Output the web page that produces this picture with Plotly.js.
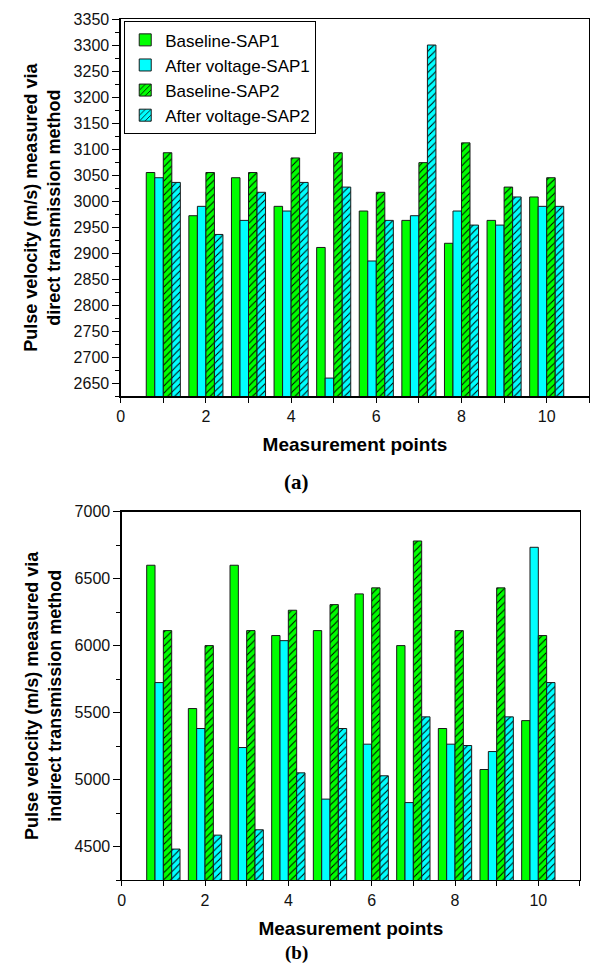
<!DOCTYPE html>
<html>
<head>
<meta charset="utf-8">
<script src="https://cdn.plot.ly/plotly-3.0.1.min.js"></script>
<style>html,body{margin:0;padding:0;background:#fff;}#chart{width:590px;height:967px;}</style>
</head>
<body>
<div id="chart"></div>
<script>
// Measurement points
const points = [1, 2, 3, 4, 5, 6, 7, 8, 9, 10];
const seriesNames = ["Baseline-SAP1", "After voltage-SAP1", "Baseline-SAP2", "After voltage-SAP2"];

// (a) direct transmission method (m/s)
const baselineSAP1_a = [3055, 2972, 3045, 2990, 2911, 2981, 2963, 2919, 2963, 3008];
const afterSAP1_a    = [3045, 2990, 2963, 2981, 2660, 2885, 2972, 2981, 2954, 2990];
const baselineSAP2_a = [3093, 3055, 3055, 3083, 3093, 3017, 3074, 3112, 3027, 3045];
const afterSAP2_a    = [3036, 2936, 3017, 3036, 3027, 2963, 3300, 2954, 3008, 2990];

// (b) indirect transmission method (m/s)
const baselineSAP1_b = [6600, 5530, 6600, 6075, 6112, 6386, 6000, 5381, 5075, 5440];
const afterSAP1_b    = [5724, 5381, 5239, 6037, 4854, 5264, 4828, 5264, 5209, 6734];
const baselineSAP2_b = [6112, 6000, 6112, 6264, 6306, 6431, 6781, 6112, 6431, 6075];
const afterSAP2_b    = [4481, 4585, 4625, 5050, 5381, 5028, 5468, 5254, 5468, 5724];

// x tick labels
const xTickVals = [0, 1, 2, 3, 4, 5, 6, 7, 8, 9, 10, 11];
const xTickText = ["0", "", "2", "", "4", "", "6", "", "8", "", "10", ""];

const GREEN = "#00ff00", CYAN = "#00ffff";
const FONT = "Liberation Sans";
const SERIF = "Liberation Serif";

function mk(name, y, color, hatched, xa, ya, showlegend) {
  const marker = {color: color, line: {color: "#1a1a1a", width: 1}};
  if (hatched) {
    marker.pattern = {shape: "/", fgcolor: "#000000", bgcolor: color, size: 5, solidity: 0.2, fillmode: "replace"};
  }
  return {type: "bar", name: name, x: points, y: y, marker: marker,
          xaxis: xa, yaxis: ya, legendgroup: name, showlegend: showlegend, hoverinfo: "x+y+name"};
}

const dataA = [baselineSAP1_a, afterSAP1_a, baselineSAP2_a, afterSAP2_a];
const dataB = [baselineSAP1_b, afterSAP1_b, baselineSAP2_b, afterSAP2_b];
const colors = [GREEN, CYAN, GREEN, CYAN];
const hatch = [false, false, true, true];

const traces = [];
for (let i = 0; i < 4; i++) traces.push(mk(seriesNames[i], dataA[i], colors[i], hatch[i], "x", "y", true));
for (let i = 0; i < 4; i++) traces.push(mk(seriesNames[i], dataB[i], colors[i], hatch[i], "x2", "y2", false));

const tickFont = {family: FONT, size: 16, color: "#111"};
function xAxis(domain, anchor) {
  return {domain: domain, anchor: anchor, range: [0, 11], tickvals: xTickVals, ticktext: xTickText,
          ticks: "outside", ticklen: 5, tickwidth: 1, tickcolor: "#000",
          showline: true, linecolor: "#000", linewidth: 1.3, mirror: true,
          showgrid: false, zeroline: false, tickfont: tickFont,
          title: {text: "<b>Measurement points</b>", font: {family: FONT, size: 19, color: "#000"}, standoff: 14}};
}
function yAxis(domain, anchor, range, dtick, minorDtick, titleText) {
  return {domain: domain, anchor: anchor, range: range, dtick: dtick,
          ticks: "outside", ticklen: 7, tickwidth: 1, tickcolor: "#000",
          minor: {ticks: "outside", ticklen: 4, dtick: minorDtick, tickcolor: "#000", showgrid: false},
          showline: true, linecolor: "#000", linewidth: 1.3, mirror: true,
          showgrid: false, zeroline: false, tickfont: tickFont,
          title: {text: titleText, font: {family: FONT, size: 18, color: "#000"}, standoff: 8}};
}

const layout = {
  width: 590, height: 967,
  margin: {l: 120, r: 0, t: 19, b: 87},
  paper_bgcolor: "#fff", plot_bgcolor: "#fff",
  font: {family: FONT, color: "#000"},
  bargap: 0.2, bargroupgap: 0, barmode: "group",
  xaxis: xAxis([0.0015, 0.9985], "y"),
  yaxis: yAxis([0.5618, 1], "x", [2625, 3350], 50, 25,
               "<b>Pulse velocity (m/s) measured via<br>direct transmission method</b>"),
  xaxis2: xAxis([0.0036, 0.9787], "y2"),
  yaxis2: yAxis([0, 0.4278], "x2", [4250, 7000], 500, 250,
               "<b>Pulse velocity (m/s) measured via<br>indirect transmission method</b>"),
  legend: {x: 0.009, y: 0.9973, xanchor: "left", yanchor: "top",
           bordercolor: "#000", borderwidth: 1, bgcolor: "#fff",
           font: {family: FONT, size: 17, color: "#000"}, tracegroupgap: 0, traceorder: "normal"},
  annotations: [
    {text: "<b>(a)</b>", xref: "paper", yref: "paper", x: 0.3745, y: 0.4626, xanchor: "center", yanchor: "middle",
     showarrow: false, font: {family: SERIF, size: 21, color: "#000"}},
    {text: "<b>(b)</b>", xref: "paper", yref: "paper", x: 0.3745, y: -0.0845, xanchor: "center", yanchor: "middle",
     showarrow: false, font: {family: SERIF, size: 19, color: "#000"}}
  ]
};

Plotly.newPlot("chart", traces, layout, {displayModeBar: false, staticPlot: true});
</script>
</body>
</html>
